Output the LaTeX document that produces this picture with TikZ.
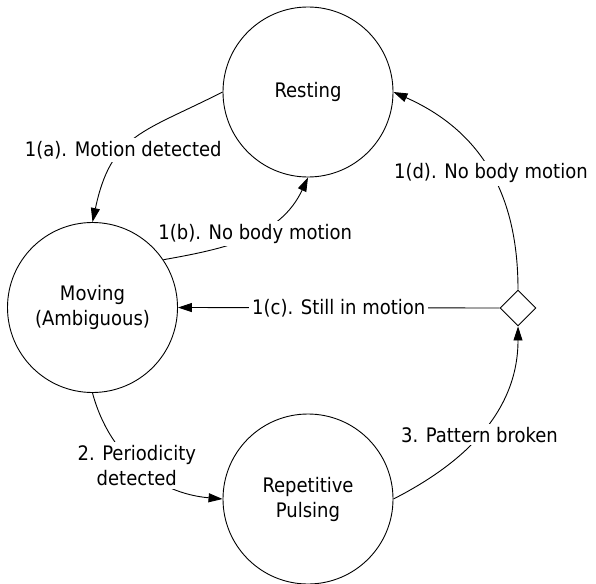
\documentclass[tikz,border=0pt]{standalone}
\usepackage{fontspec}
\setmainfont{DejaVu Sans Condensed}
\usetikzlibrary{arrows.meta,shapes.geometric}

\begin{document}
\begin{tikzpicture}[x=1pt,y=1pt,line width=0.9pt,font=\fontsize{20}{25}\selectfont]

        \useasboundingbox (0,0) rectangle (596,-583);

        \begin{scope}[every node/.style={circle,draw,minimum size=170pt,inner sep=0pt,align=center}]
          \node (rest) at (308,-92)     {Resting};
          \node (mov)  at (92.5,-307.5) {Moving\\(Ambiguous)};
          \node (rep)  at (308,-499)    {Repetitive\\Pulsing};
        \end{scope}
        \node[diamond,draw,minimum size=36pt,inner sep=0pt] (dia) at (518,-308) {};

        \begin{scope}[every node/.style={fill=white,inner sep=3pt,align=center}]

          \begin{scope}[every edge/.style={draw,-{Triangle[length=14pt,width=9pt]}}]
            \path (rest.west) edge[out=207,in=78,looseness=1.25] node[pos=0.6] {1(a). Motion detected} (mov.north);
            \path (mov.34)    edge[out=10,in=-115] node[pos=0.54] {1(b). No body motion} (rest.south);
            \path (dia.west)  edge node {1(c). Still in motion} (mov.east);
            \path (dia.north) edge[out=90,in=-24,looseness=1.05] node[pos=0.48] {1(d). No body motion} (rest.east);
            \path (mov.south) edge[out=-75,in=175] node[pos=0.48] {2. Periodicity\\detected} (rep.west);
            \path (rep.east)  edge[out=27,in=-90] node[pos=0.47] {3. Pattern broken} (dia.south);
          \end{scope}
        \end{scope}

      \end{tikzpicture}
\end{document}
